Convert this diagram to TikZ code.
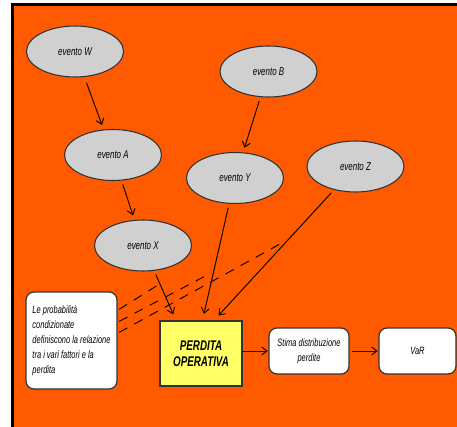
\documentclass[tikz,border=0pt]{standalone}
\usepackage{fontspec}
\setmainfont{Liberation Sans}
\newfontfamily\strettosf[FakeStretch=0.7]{Liberation Sans}
\usetikzlibrary{shapes.geometric,arrows.meta,calc}

\definecolor{fondoarancio}{RGB}{255,90,0}
\definecolor{grigioevento}{RGB}{208,208,208}
\definecolor{giallo}{RGB}{255,255,102}
\definecolor{bordo}{RGB}{50,50,50}

\tikzset{
  evento/.style={ellipse, draw=bordo, fill=grigioevento, line width=0.8pt,
    minimum width=72.75pt, minimum height=38.25pt, inner sep=0pt,
    font=\strettosf\itshape\fontsize{8.5}{10}\selectfont},
  riquadro/.style={rectangle, rounded corners=6pt, draw=bordo, fill=white,
    line width=0.9pt, inner sep=2pt, align=center,
    font=\strettosf\itshape\fontsize{8}{11.25}\selectfont},
  perdita/.style={rectangle, draw=bordo, fill=giallo, line width=0.9pt,
    minimum width=61.5pt, minimum height=48.75pt, align=center,
    font=\strettosf\bfseries\itshape\fontsize{10.5}{11.75}\selectfont},
  freccia/.style={-{Straight Barb[length=4pt,width=6pt]}, line width=0.7pt,
    shorten <=3pt, shorten >=3.5pt},
  legame/.style={line width=0.7pt, dash pattern=on 7pt off 6pt}
}

\begin{document}
\begin{tikzpicture}[x=0.75pt,y=0.75pt,yscale=-1,xscale=1]
\clip (0,0) rectangle (457,427);
\fill[white] (0,0) rectangle (457,427);

%Cornice arancione
\draw[line width=2.25pt, fill=fondoarancio] (12.5,4.5) rectangle (475,445);

%Eventi
\node[evento] (evW) at (75,51.5) {evento W};
\node[evento] (evB) at (268.5,71.5) {evento B};
\node[evento] (evA) at (113,155) {evento A};
\node[evento] (evY) at (235,178) {evento Y};
\node[evento] (evZ) at (355.5,166.5) {evento Z};
\node[evento] (evX) at (143,245.5) {evento X};

%Riquadri
\node[riquadro, minimum width=68.25pt, minimum height=72.75pt, align=left] (nota) at (71.5,340.5)
  {Le probabilità\\condizionate\\definiscono la relazione\\tra i vari fattori e la\\perdita};
\node[perdita] (perd) at (201,353.5) {PERDITA\\OPERATIVA};
\node[riquadro, minimum width=60pt, minimum height=34.5pt] (stima) at (309,351) {Stima distribuzione\\perdite};
\node[riquadro, minimum width=57.75pt, minimum height=34.5pt] (var) at (417.5,351) {VaR};

%Frecce tra gli eventi
\draw[freccia, shorten <=4.5pt] (evW) -- (evA);
\draw[freccia] (evB) -- (evY);
\draw[freccia] (evA) -- (evX);

%Frecce verso la perdita
\draw[freccia, shorten >=5pt] (evX) -- ($(perd.north)+(-25,0)$);
\draw[freccia, shorten >=5pt] (evY) -- ($(perd.north)+(1.5,0)$);
\draw[freccia, shorten >=5pt] (evZ) -- ($(perd.north)+(13,0)$);
\draw[freccia, shorten <=0pt, shorten >=0.5pt] (perd.east |- stima.west) -- (stima.west);
\draw[freccia, shorten <=2pt, shorten >=0.5pt] (stima) -- (var);

%Legami tratteggiati
\coordinate (fineX) at (158,285);
\coordinate (fineY) at (211,273);
\coordinate (fineZ) at (280,244);
\draw[legame] ($(nota.north east)+(1.5,18)$) -- (fineX);
\draw[legame] ($(nota.north east)+(1.5,30)$) -- (fineY);
\draw[legame] ($(nota.north east)+(1.5,41)$) -- (fineZ);

\end{tikzpicture}
\end{document}
